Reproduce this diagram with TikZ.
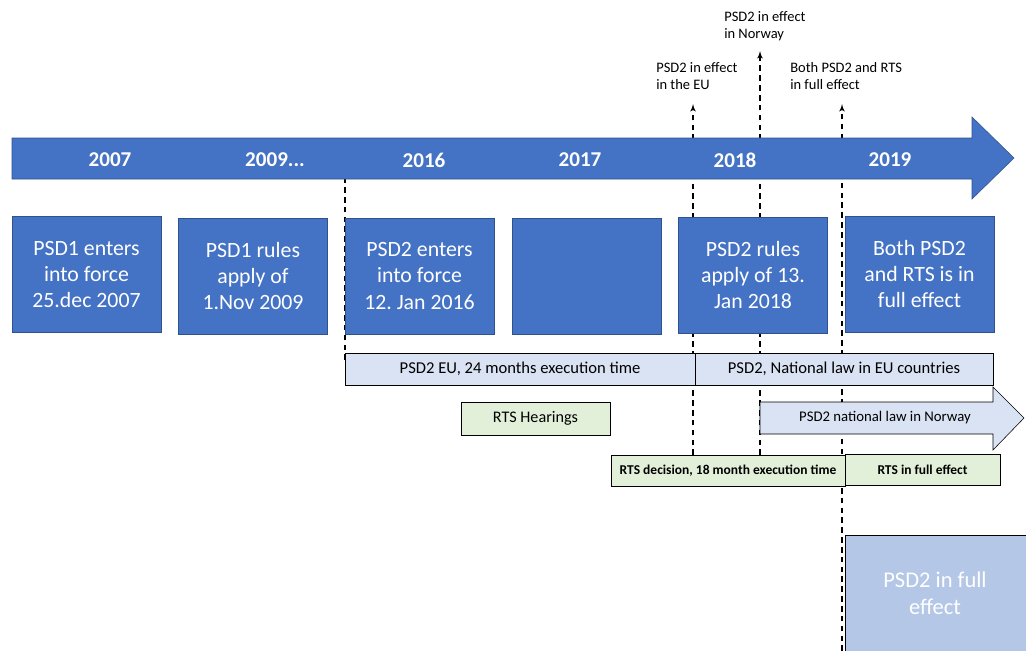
\documentclass[tikz,border=0pt]{standalone}
\usepackage{fontspec}
\setmainfont{Carlito}
\usepackage{tikz}
\usetikzlibrary{arrows}
\usetikzlibrary{positioning}
\frenchspacing
\definecolor{mblue}{HTML}{4472C4}
\definecolor{mdblue}{HTML}{2F528F}
\definecolor{mlblue}{HTML}{DAE3F3}
\definecolor{mfblue}{HTML}{B4C7E7}
\definecolor{mgreen}{HTML}{E2F0D9}
\tikzset{stagebox/.style = {draw=mdblue, fill=mblue, text=white, align=center,
                            minimum width=3.73cm, minimum height=2.9cm,
                            font=\fontsize{15.5}{18.5}\selectfont},
         yearlbl/.style = {text=white, font=\fontsize{15}{18}\selectfont\bfseries},
         barbox/.style = {draw, fill=mlblue, minimum height=0.8cm,
                          font=\fontsize{11.8}{13}\selectfont},
         rtsbox/.style = {draw, fill=mgreen, minimum height=0.78cm},
         marker/.style = {dash pattern=on 4pt off 3pt, line width=0.85pt},
         toplbl/.style = {anchor=north west, align=left, inner sep=0pt,
                          font=\fontsize{10.3}{12}\selectfont}}

\begin{document}
\begin{tikzpicture}[x=0.025cm, y=-0.025cm]
    \useasboundingbox (0, 0) rectangle (1026, 651);

    % markers behind everything
    \coordinate (m16bot) at (345, 360);   \coordinate (m16top) at (345, 138);
    \coordinate (eubot) at (693, 455);    \coordinate (eutop) at (693, 104);
    \coordinate (nobot) at (760, 455);    \coordinate (notop) at (760, 51);
    \coordinate (fullbot) at (842, 651);  \coordinate (fulltop) at (842, 104);
    \draw [marker] (m16bot) -- (m16top);
    \draw [marker, -latex'] (eubot) -- (eutop);
    \draw [marker, -latex'] (nobot) -- (notop);
    \draw [marker, -latex'] (fullbot) -- (fulltop);

    \node [toplbl] (eulbl) at (656, 62) {PSD2 in effect\\in the EU};
    \node [toplbl] (nolbl) at (724, 11) {PSD2 in effect\\in Norway};
    \node [toplbl] (fulllbl) at (790, 62) {Both PSD2 and RTS\\in full effect};

    % time line
    \draw [draw=mdblue, fill=mblue] (12, 138) -- (972, 138) -- (972, 117) -- (1014, 158)
        -- (972, 199) -- (972, 179) -- (12, 179) -- cycle;
    \node [yearlbl] (y2007) at (110, 160) {2007};
    \node [yearlbl] (y2009) at (275, 160) {2009...};
    \node [yearlbl] (y2016) at (424, 160) {2016};
    \node [yearlbl] (y2017) at (580, 160) {2017};
    \node [yearlbl] (y2018) at (735, 160) {2018};
    \node [yearlbl] (y2019) at (890, 160) {2019};

    \node [stagebox] (psd1force) at (86.5, 274.5) {PSD1 enters\\into force\\25.dec 2007};
    \node [stagebox] (psd1rules) at (253, 276) {PSD1 rules\\apply of\\1.Nov 2009};
    \node [stagebox] (psd2force) at (419.5, 276) {PSD2 enters\\into force\\12. Jan 2016};
    \node [stagebox] (empty17) at (587, 276) {};
    \node [stagebox] (psd2rules) at (753, 275) {PSD2 rules\\apply of 13.\\Jan 2018};
    \node [stagebox] (bothfull) at (919.5, 274) {Both PSD2\\and RTS is in\\full effect};

    \node [barbox, minimum width=8.75cm] (euexec) at (520, 369) {PSD2 EU, 24 months execution time};
    \node [barbox, minimum width=7.45cm] (eulaw) at (844, 369) {PSD2, National law in EU countries};

    \draw [fill=mlblue] (760, 402) -- (993, 402) -- (993, 387) -- (1024, 418)
        -- (993, 450) -- (993, 434) -- (760, 434) -- cycle;
    \node [font=\fontsize{10.5}{12}\selectfont] (nolaw) at (885, 418) {PSD2 national law in Norway};

    \node [rtsbox, minimum width=3.73cm, minimum height=0.83cm, font=\fontsize{11.5}{13}\selectfont]
        (hearings) at (535.5, 418.5) {RTS Hearings};
    \node [rtsbox, minimum width=5.85cm, font=\fontsize{9.6}{11}\selectfont\bfseries]
        (rtsdec) at (728, 470.5) {RTS decision, 18 month execution time};
    \node [rtsbox, minimum width=3.88cm, font=\fontsize{9.6}{11}\selectfont\bfseries]
        (rtsfull) at (922.5, 470) {RTS in full effect};

    \fill [mfblue] (845, 535) rectangle (1030, 655);
    \draw (845, 655) -- (845, 535) -- (1030, 535);
    \node [text=white, align=center, font=\fontsize{16}{19}\selectfont]
        (psd2full) at (935, 593) {PSD2 in full\\effect};
\end{tikzpicture}
\end{document}
